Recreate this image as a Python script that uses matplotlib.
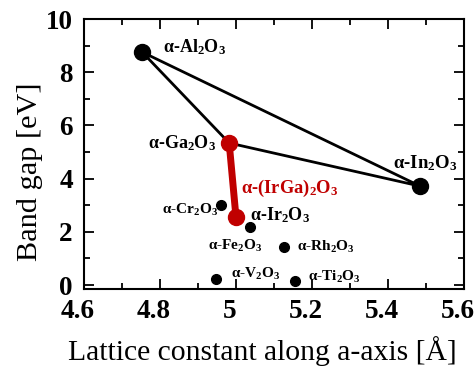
import matplotlib
matplotlib.use('Agg')
import matplotlib.pyplot as plt
import matplotlib.transforms as mtransforms

# ── data ───────────────────────────────────────────────────────────────────────
# corner compounds (big dots) and the alloy end-points
big_names = ['Al', 'Ga', 'In', 'Ir']
big_a     = [4.753, 4.982, 5.484, 5.000]
big_eg    = [8.76, 5.34, 3.72, 2.54]

# other corundum oxides (small dots)
small_names = ['Cr', 'Fe', 'Rh', 'V', 'Ti']
small_a     = [4.960, 5.036, 5.125, 4.947, 5.156]
small_eg    = [3.00, 2.17, 1.44, 0.21, 0.16]

# triangle Al-Ga-In, and the Ga-Ir alloy line
triangle = ['Al', 'In', 'Ga', 'Al']
alloy    = ['Ga', 'Ir']

x_ticks  = [4.6, 4.8, 5.0, 5.2, 5.4, 5.6]
x_labels = ['4.6', '4.8', '5', '5.2', '5.4', '5.6']
y_ticks  = [0, 2, 4, 6, 8, 10]

plt.rcParams['font.family'] = ['Liberation Serif', 'DejaVu Serif']
plt.rcParams['mathtext.fontset'] = 'custom'
plt.rcParams['mathtext.rm'] = 'Liberation Serif:bold'
plt.rcParams['mathtext.default'] = 'rm'

RED = '#c00000'

fig = plt.figure(figsize=(4.77, 3.67), dpi=100)
ax = fig.add_axes([0.176, 0.2125, 0.797, 0.7355])

pos = dict(zip(big_names, zip(big_a, big_eg)))
small = dict(zip(small_names, zip(small_a, small_eg)))

ax.plot([pos[k][0] for k in triangle], [pos[k][1] for k in triangle], '-',
        color='black', lw=2, zorder=2)
ax.plot([pos[k][0] for k in alloy], [pos[k][1] for k in alloy], '-',
        color=RED, lw=5, zorder=3)

cols = ['black', RED, 'black', RED]
for (x, y), c in zip(zip(big_a, big_eg), cols):
    ax.plot(x, y, 'o', color=c, ms=11.5, zorder=4)
ax.plot(small_a, small_eg, 'o', color='black', ms=7, ls='none', zorder=4)

# labels: (text, anchor point, pixel offset, ha, size, colour)
labels = [
    ('α-Al$_2$O$_3$',     pos['Al'],   (21, 5),   'left',  13,   'black'),
    ('α-Ga$_2$O$_3$',     pos['Ga'],   (-13, 0),  'right', 13,   'black'),
    ('α-In$_2$O$_3$',     pos['In'],   (-27, 23), 'left',  13.5, 'black'),
    ('α-(IrGa)$_2$O$_3$', pos['Ir'],   (5, 29),   'left',  13.3, RED),
    ('α-Ir$_2$O$_3$',     pos['Ir'],   (14, 2),   'left',  13,   'black'),
    ('α-Cr$_2$O$_3$',     small['Cr'], (-3, -5),  'right', 11,   'black'),
    ('α-Fe$_2$O$_3$',     small['Fe'], (-42, -19), 'left', 11,   'black'),
    ('α-Rh$_2$O$_3$',     small['Rh'], (13, 0),   'left',  11,   'black'),
    ('α-V$_2$O$_3$',      small['V'],  (15, 5),   'left',  11,   'black'),
    ('α-Ti$_2$O$_3$',     small['Ti'], (13, 4),   'left',  11,   'black'),
]
for text, xy, off, ha, size, c in labels:
    ax.annotate(text, xy, xytext=off, textcoords='offset pixels', ha=ha,
                va='center', fontsize=size, fontweight='bold', color=c, zorder=5)

ax.set_xlim(4.6, 5.6)
ax.set_ylim(-0.15, 10)
ax.set_xticks(x_ticks)
ax.set_xticklabels(x_labels)
ax.set_xticks([4.7, 4.9, 5.1, 5.3, 5.5], minor=True)
ax.set_yticks(y_ticks)
ax.set_yticks([1, 3, 5, 7, 9], minor=True)
ax.tick_params(which='both', direction='in', top=True, right=True, width=1.3)
ax.tick_params(which='major', length=7, labelsize=19.5)
ax.tick_params(axis='x', which='major', pad=7)
ax.tick_params(axis='y', which='major', pad=8)
ax.tick_params(which='minor', length=4)
shift = mtransforms.ScaledTranslation(-6 / 100, 0, fig.dpi_scale_trans)
for t in ax.get_xticklabels():
    t.set_fontweight('bold')
    t.set_transform(t.get_transform() + shift)
for t in ax.get_yticklabels():
    t.set_fontweight('bold')
for s in ax.spines.values():
    s.set_linewidth(1.5)

ax.set_xlabel('Lattice constant along a-axis [Å]', fontsize=21.3, va='baseline')
ax.xaxis.set_label_coords(0.4697, -(360 - 289) / 270)
ax.set_ylabel('Band gap [eV]', fontsize=21.8, va='baseline')
ax.yaxis.set_label_coords(-(84 - 37) / 380, (289 - 171.5) / 270)

fig.savefig('out.png', dpi=100)
